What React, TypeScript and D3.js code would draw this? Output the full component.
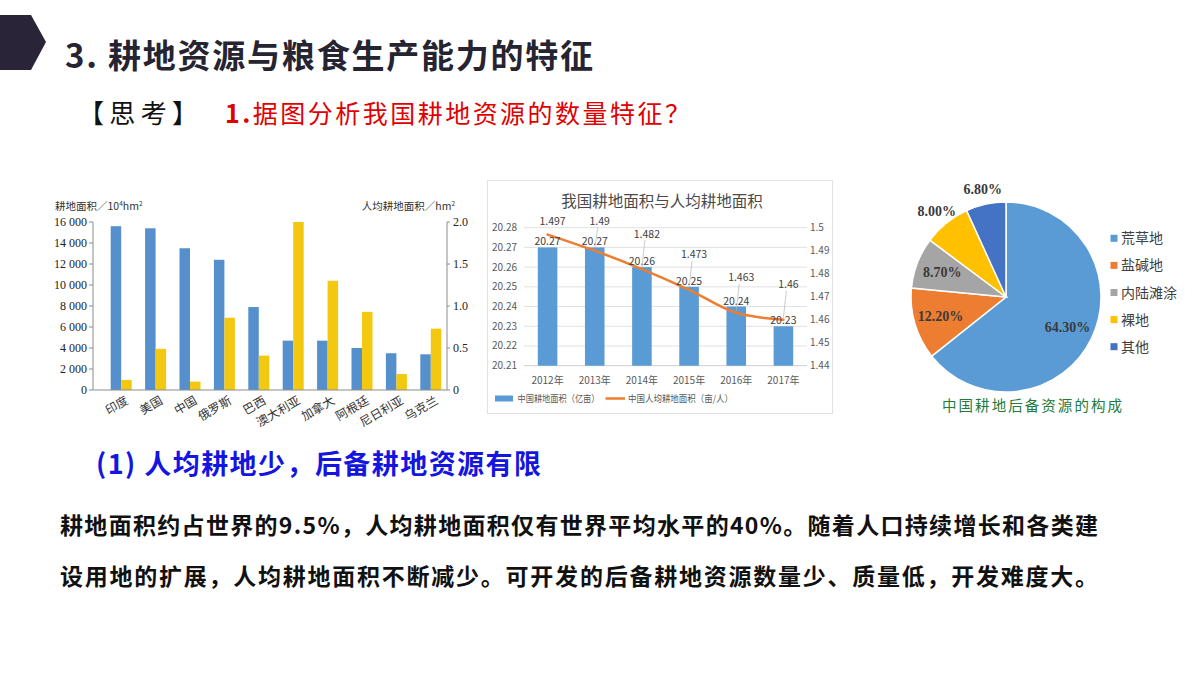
import React from 'react';
import * as d3 from 'd3';

// ---------- Left chart data ----------
const countries = ['印度', '美国', '中国', '俄罗斯', '巴西', '澳大利亚', '加拿大', '阿根廷', '尼日利亚', '乌克兰'];
const arableArea = [15600, 15400, 13500, 12400, 7900, 4700, 4700, 4000, 3500, 3400];
const perCapitaArea = [0.12, 0.49, 0.1, 0.86, 0.41, 2.0, 1.3, 0.93, 0.19, 0.73];
const areaTicks = [0, 2000, 4000, 6000, 8000, 10000, 12000, 14000, 16000];
const perCapitaTicks = [0, 0.5, 1.0, 1.5, 2.0];

// ---------- Middle chart data ----------
const years = ['2012年', '2013年', '2014年', '2015年', '2016年', '2017年'];
const chinaArableArea = [20.27, 20.27, 20.26, 20.25, 20.24, 20.23];
const chinaPerCapita = [1.497, 1.49, 1.482, 1.473, 1.463, 1.46];
const areaTicksCN = [20.21, 20.22, 20.23, 20.24, 20.25, 20.26, 20.27, 20.28];
const perCapitaTicksCN = [1.44, 1.45, 1.46, 1.47, 1.48, 1.49, 1.5];

// ---------- Pie data ----------
const reserveTypes = ['荒草地', '盐碱地', '内陆滩涂', '裸地', '其他'];
const reserveShares = [64.3, 12.2, 8.7, 8.0, 6.8];

const pieColors = ['#5B9BD5', '#ED7D31', '#A5A5A5', '#FFC000', '#4472C4'];
const CJK = '"Noto Sans CJK SC", "Noto Sans", sans-serif';
const SERIF = '"Liberation Serif", "DejaVu Serif", serif';

function LeftChart() {
  const yL = d3.scaleLinear().domain([0, 16000]).range([390, 222]);
  const yR = d3.scaleLinear().domain([0, 2]).range([390, 222]);
  const x = d3.scaleBand<string>().domain(countries).range([104, 448]);
  const bw = 10.5;
  const fmtL = (d: number) => d3.format(',')(d).replace(/,/g, ' ');
  const fmtR = (d: number) => (d === 0 ? '0' : d3.format('.1f')(d));
  const axisColor = '#8c8c8c';
  return (
    <g>
      <text x={55} y={210} fontFamily={CJK} fontSize={10.5} fill="#333">
        耕地面积／10<tspan fontSize={6.5} dy={-4}>4</tspan><tspan dy={4}>hm</tspan><tspan fontSize={6.5} dy={-4}>2</tspan>
      </text>
      <text x={455} y={210} textAnchor="end" fontFamily={CJK} fontSize={10.5} fill="#333">
        人均耕地面积／hm<tspan fontSize={6.5} dy={-4}>2</tspan>
      </text>
      {countries.map((c, i) => {
        const cx = (x(c) as number) + x.bandwidth() / 2;
        return (
          <g key={c}>
            <rect x={cx - bw} y={yL(arableArea[i])} width={bw} height={390 - yL(arableArea[i])} fill="#5590CD" />
            <rect x={cx} y={yR(perCapitaArea[i])} width={bw} height={390 - yR(perCapitaArea[i])} fill="#F2C811" />
            <text transform={`translate(${cx + 8},403) rotate(-30)`} textAnchor="end" fontFamily={CJK} fontSize={12} fill="#333">{c}</text>
          </g>
        );
      })}
      <line x1={93} x2={93} y1={222} y2={390} stroke={axisColor} />
      <line x1={447} x2={447} y1={222} y2={390} stroke={axisColor} />
      <line x1={93} x2={447} y1={390} y2={390} stroke={axisColor} />
      {areaTicks.map((t) => (
        <g key={t}>
          <line x1={89} x2={93} y1={yL(t)} y2={yL(t)} stroke={axisColor} />
          <text x={87} y={yL(t) + 4} textAnchor="end" fontFamily={SERIF} fontSize={12} fill="#222">{fmtL(t)}</text>
        </g>
      ))}
      {perCapitaTicks.map((t) => (
        <g key={t}>
          <line x1={447} x2={450} y1={yR(t)} y2={yR(t)} stroke={axisColor} />
          <text x={453} y={yR(t) + 4} fontFamily={SERIF} fontSize={12} fill="#222">{fmtR(t)}</text>
        </g>
      ))}
    </g>
  );
}

function MiddleChart() {
  const x = d3.scaleBand<string>().domain(years).range([524, 807]).paddingInner(0.585).paddingOuter(0.2925);
  const yA = d3.scaleLinear().domain([20.21, 20.28]).range([365.7, 227.7]);
  const yP = d3.scaleLinear().domain([1.44, 1.5]).range([365.7, 227.7]);
  const cxs = years.map((y) => (x(y) as number) + x.bandwidth() / 2);
  const pts: [number, number][] = chinaPerCapita.map((v, i) => [cxs[i], yP(v)]);
  const line = d3.line().curve(d3.curveMonotoneX)(pts) as string;
  const grey = '#595959';
  return (
    <g>
      <rect x={487.5} y={180.5} width={345} height={233} fill="#fff" stroke="#e2e2e2" />
      <text x={662} y={207} textAnchor="middle" fontFamily={CJK} fontSize={15.5} fill="#4a4a4a">我国耕地面积与人均耕地面积</text>
      {areaTicksCN.map((t, i) => (
        <g key={t}>
          <line x1={524} x2={807} y1={yA(t)} y2={yA(t)} stroke={i === 0 ? '#bfbfbf' : '#d9d9d9'} strokeWidth={0.8} />
          <text x={517} y={yA(t) + 3.5} textAnchor="end" fontFamily={CJK} fontSize={10} fill={grey}>{d3.format('.2f')(t)}</text>
        </g>
      ))}
      {perCapitaTicksCN.map((t) => (
        <text key={t} x={810} y={yP(t) + 3.5} fontFamily={CJK} fontSize={10} fill={grey}>{String(+t.toFixed(2))}</text>
      ))}
      {years.map((y, i) => (
        <g key={y}>
          <rect x={x(y)} y={yA(chinaArableArea[i])} width={x.bandwidth()} height={365.7 - yA(chinaArableArea[i])} fill="#5B9BD5" />
          <text x={cxs[i]} y={384} textAnchor="middle" fontFamily={CJK} fontSize={10} fill={grey}>{y}</text>
        </g>
      ))}
      <path d={line} fill="none" stroke="#ED7D31" strokeWidth={2.5} strokeLinecap="round" />
      {years.map((y, i) => {
        const by = yA(chinaArableArea[i]);
        return (
          <text key={'b' + y} x={cxs[i]} y={by - 2} textAnchor="middle" fontFamily={CJK} fontSize={10.5} fill="#404040">{d3.format('.2f')(chinaArableArea[i])}</text>
        );
      })}
      {chinaPerCapita.map((v, i) => {
        const [px, py] = pts[i];
        const ly = Math.max(py - 35, 221);
        const lx = px + 5;
        return (
          <g key={'l' + i}>
            {py - ly > 14 && <line x1={lx - 2} y1={ly + 6} x2={px} y2={py - 2} stroke="#b5b5b5" strokeWidth={0.7} />}
            <text x={lx} y={ly + 3.5} textAnchor="middle" fontFamily={CJK} fontSize={10.5} fill="#404040">{String(v)}</text>
          </g>
        );
      })}
      <rect x={495} y={395.5} width={18} height={6} fill="#5B9BD5" />
      <text x={517.5} y={402} fontFamily={CJK} fontSize={9.5} fill={grey} textLength={82} lengthAdjust="spacingAndGlyphs">中国耕地面积（亿亩）</text>
      <line x1={605.5} x2={625} y1={398.5} y2={398.5} stroke="#ED7D31" strokeWidth={2.5} />
      <text x={628} y={402} fontFamily={CJK} fontSize={9.5} fill={grey} textLength={105} lengthAdjust="spacingAndGlyphs">中国人均耕地面积（亩/人）</text>
    </g>
  );
}

function PieChart() {
  const cx = 1006;
  const cy = 297;
  const r = 95;
  const arcs = d3.pie<number>().sort(null).value((d) => d)(reserveShares);
  const arc = d3.arc<d3.PieArcDatum<number>>().innerRadius(0).outerRadius(r);
  return (
    <g>
      <g transform={`translate(${cx},${cy})`}>
        {arcs.map((a, i) => (
          <path key={i} d={arc(a) as string} fill={pieColors[i]} stroke="#fff" strokeWidth={1.5} />
        ))}
        {arcs.map((a, i) => {
          const m = (a.startAngle + a.endAngle) / 2;
          const k = reserveShares[i] < 8.5 ? 1.16 : 0.72;
          return (
            <text key={'t' + i} x={r * k * Math.sin(m)} y={-r * k * Math.cos(m)} dy="0.35em" textAnchor="middle"
              fontFamily={SERIF} fontWeight="bold" fontSize={14} fill="#3a3a3a">
              {d3.format('.2f')(reserveShares[i])}%
            </text>
          );
        })}
      </g>
      {reserveTypes.map((t, i) => {
        const y = 238.3 + i * 27.1;
        return (
          <g key={t}>
            <rect x={1110.5} y={y - 3.5} width={7} height={7} fill={pieColors[i]} />
            <text x={1121} y={y + 5} fontFamily={CJK} fontSize={14} fill="#404040">{t}</text>
          </g>
        );
      })}
      <text x={942} y={411} fontFamily={CJK} fontSize={14.5} fill="#237a3d" textLength={180} lengthAdjust="spacing">中国耕地后备资源的构成</text>
    </g>
  );
}

export default function App() {
  return (
    <svg width={1200} height={675} viewBox="0 0 1200 675"
      style={{ position: 'absolute', left: 0, top: 0, display: 'block', background: '#fff' }}>
      <rect x={0} y={0} width={1200} height={675} fill="#fff" />
      <polygon points="0,15 31,15 46,42 31,70 0,70" fill="#2a2438" />
      <text x={65} y={68} fontFamily={CJK} fontWeight="bold" fontSize={33} fill="#262430" textLength={528} lengthAdjust="spacing">3. 耕地资源与粮食生产能力的特征</text>
      <text x={78} y={123} fontFamily={CJK} fontSize={26} fill="#111" textLength={120} lengthAdjust="spacing">【思考】</text>
      <text x={225} y={123} fontFamily={CJK} fontSize={25} fill="#e00000" textLength={465} lengthAdjust="spacing">
        <tspan fontWeight="bold">1.</tspan>据图分析我国耕地资源的数量特征？
      </text>
      <LeftChart />
      <MiddleChart />
      <PieChart />
      <text x={96} y={474} fontFamily={CJK} fontWeight="bold" fontSize={27} fill="#1515e0" textLength={445} lengthAdjust="spacing">(1) 人均耕地少，后备耕地资源有限</text>
      <text x={60} y={534} fontFamily={CJK} fontWeight="bold" fontSize={23} fill="#111" textLength={1038} lengthAdjust="spacing">耕地面积约占世界的9.5%，人均耕地面积仅有世界平均水平的40%。随着人口持续增长和各类建</text>
      <text x={60} y={585} fontFamily={CJK} fontWeight="bold" fontSize={23} fill="#111" textLength={1038} lengthAdjust="spacing">设用地的扩展，人均耕地面积不断减少。可开发的后备耕地资源数量少、质量低，开发难度大。</text>
    </svg>
  );
}
